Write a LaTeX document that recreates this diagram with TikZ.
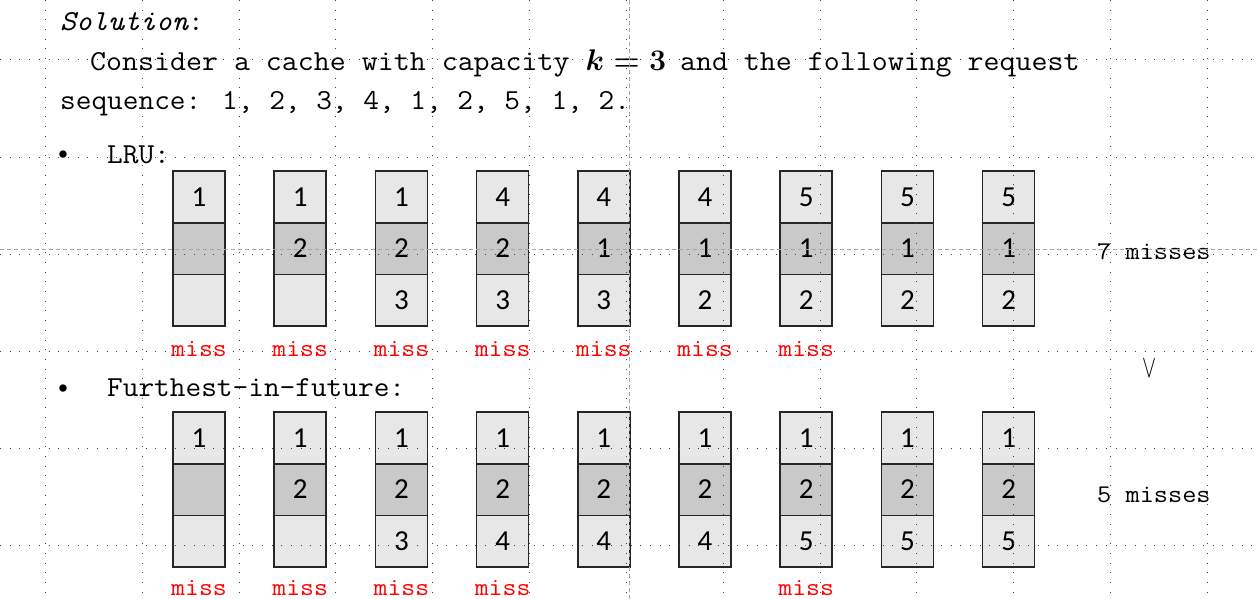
\documentclass[tikz,border=0pt]{standalone}
\usepackage{fontspec}
\newfontfamily\cellfnt{Carlito}
\newfontfamily\arialfnt{Liberation Sans}
\newcommand{\hstr}[1]{\scalebox{1.05}[1]{#1}}
\newcommand{\hstrB}[1]{\scalebox{1.08}[1]{#1}}
\newcommand{\hstrC}[1]{\scalebox{1.07}[1]{#1}}
\definecolor{cellA}{HTML}{E7E7E7}
\definecolor{cellB}{HTML}{C9C9C9}
\definecolor{edge}{HTML}{262626}
\definecolor{missred}{HTML}{FF0000}
\definecolor{guide}{HTML}{A6A6A6}
\begin{document}
\begin{tikzpicture}[x=1pt,y=-1pt,
  cell/.style={draw=edge,line width=1.7pt,minimum width=52pt,minimum height=51.7pt,inner sep=0pt,font=\cellfnt\fontsize{29}{29}\selectfont},
  lite/.style={cell,fill=cellA},
  dark/.style={cell,fill=cellB},
  txt/.style={anchor=base west,inner sep=0pt,font=\ttfamily\fontsize{29}{32}\selectfont},
  misslbl/.style={anchor=base,inner sep=0pt,text=missred,font=\ttfamily\fontsize{25}{28}\selectfont},
  cnt/.style={anchor=base west,inner sep=0pt,font=\ttfamily\fontsize{25.5}{28}\selectfont},
  gridln/.style={black!75,line width=1pt,dash pattern=on 1pt off 8.7pt},
  guideln/.style={guide,line width=0.9pt,dash pattern=on 4pt off 3pt}]
\useasboundingbox (0,0) rectangle (1257,599);

% texts
\node[txt] (sol) at (60,31) {\hstr{{\itshape Solution}:}};
\node[txt] (l1) at (90,71) {\hstrC{Consider a cache with capacity} \hspace{1pt}\scalebox{1.2}{\fontsize{24.88}{30}\selectfont\boldmath$k=3$}\hspace{-1pt} \hstrC{and the following request}};
\node[txt] (l2) at (60,110) {\hstr{sequence: 1, 2, 3, 4, 1, 2, 5, 1, 2.}};
\node[anchor=base,inner sep=0pt,font=\arialfnt\fontsize{27}{27}\selectfont] (b1) at (63,163) {•};
\node[txt] (lru) at (107,163) {\hstr{LRU:}};
\node[anchor=base,inner sep=0pt,font=\arialfnt\fontsize{27}{27}\selectfont] (b2) at (63,397) {•};
\node[txt] (fif) at (107,396) {\hstr{Furthest-in-future:}};

% LRU cache states
\foreach \i/\a/\b/\c in {1/1/{}/{},2/1/2/{},3/1/2/3,4/4/2/3,5/4/1/3,6/4/1/2,7/5/1/2,8/5/1/2,9/5/1/2}{
  \node[lite] (La\i) at ({199+101.2*(\i-1)},196.85) {\a};
  \node[dark] (Lb\i) at ({199+101.2*(\i-1)},248.55) {\b};
  \node[lite] (Lc\i) at ({199+101.2*(\i-1)},300.25) {\c};
}
\foreach \i in {1,...,7}{
  \node[misslbl] (Lm\i) at ({199+101.2*(\i-1)},356) {\hstrB{miss}};
}

% Furthest-in-future cache states
\foreach \i/\a/\b/\c in {1/1/{}/{},2/1/2/{},3/1/2/3,4/1/2/4,5/1/2/4,6/1/2/4,7/1/2/5,8/1/2/5,9/1/2/5}{
  \node[lite] (Fa\i) at ({199+101.2*(\i-1)},437.85) {\a};
  \node[dark] (Fb\i) at ({199+101.2*(\i-1)},489.55) {\b};
  \node[lite] (Fc\i) at ({199+101.2*(\i-1)},541.25) {\c};
}
\foreach \i in {1,2,3,4,7}{
  \node[misslbl] (Fm\i) at ({199+101.2*(\i-1)},595) {\hstrB{miss}};
}

% counts
\node[cnt] (c7) at (1097,259) {\hstrB{7 misses}};
\node[inner sep=0pt] (gt) at (1150,369) {\scalebox{0.85}[1.3]{\fontsize{24.88}{26}\selectfont$\vee$}};
\node[cnt] (c5) at (1097,502) {\hstrB{5 misses}};

% guides and grid
\draw[guideln] (629,0) -- (629,599);
\draw[guideln] (0,249) -- (1257,249);
\foreach \k in {0,...,12} \draw[gridln] ({45.3+96.85*\k},0) -- ({45.3+96.85*\k},599);
\foreach \k in {0,...,5} \draw[gridln] (0,{60+97*\k}) -- (1257,{60+97*\k});
\end{tikzpicture}
\end{document}
